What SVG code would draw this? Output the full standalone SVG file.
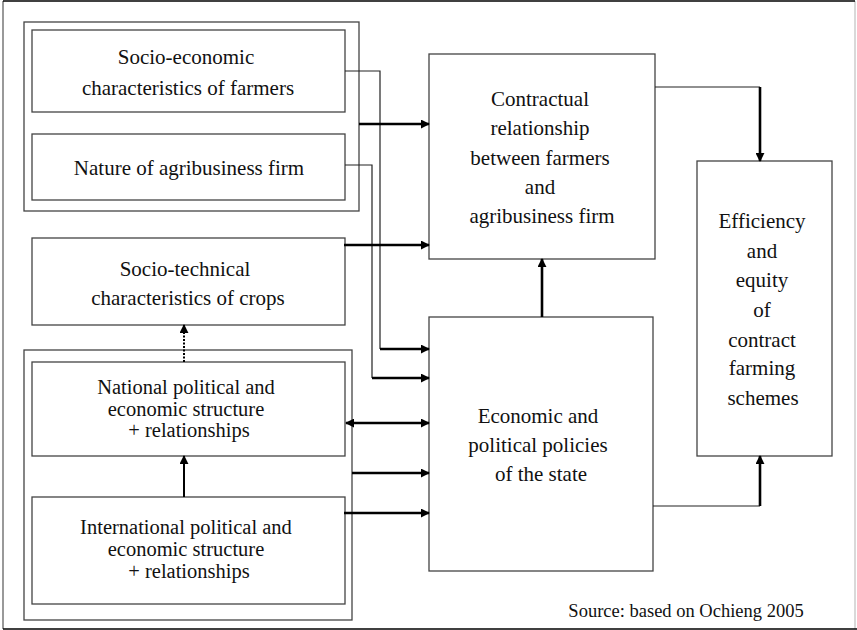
<svg xmlns="http://www.w3.org/2000/svg" width="857" height="630" viewBox="0 0 857 630">
<style>
.box{fill:#fff;stroke:#444;stroke-width:1.3}
.grp{fill:none;stroke:#444;stroke-width:1.3}
text{font-family:"Liberation Serif","Times New Roman",serif;font-size:21px;fill:#111;text-anchor:middle}
.s{font-size:20.5px}
.thin{fill:none;stroke:#222;stroke-width:1.2}
.thick{fill:none;stroke:#000;stroke-width:2.6}
</style>
<defs>
<marker id="ah" viewBox="0 0 10 10" refX="9" refY="5" markerWidth="9" markerHeight="9" markerUnits="userSpaceOnUse" orient="auto-start-reverse">
<path d="M0,0 L10,5 L0,10 z" fill="#000"/>
</marker>
</defs>
<rect x="0" y="0" width="857" height="630" fill="#fff"/>
<line x1="3" y1="1" x2="3" y2="629" stroke="#777" stroke-width="1.5"/>
<line x1="855" y1="1" x2="855" y2="629" stroke="#ccc" stroke-width="1.5"/>
<line x1="3" y1="1" x2="855" y2="1" stroke="#000" stroke-width="1.5"/>
<line x1="3" y1="629" x2="857" y2="629" stroke="#000" stroke-width="1.5"/>

<g id="group-farm-firm"><rect class="grp" x="24" y="22" width="335" height="189"/></g>
<g id="group-structures"><rect class="grp" x="24" y="350" width="328" height="270"/></g>

<g id="socio-economic">
<rect class="box" x="32" y="30" width="313" height="82"/>
<text x="186" y="64">Socio-economic</text>
<text x="188" y="95">characteristics of farmers</text>
</g>
<g id="nature-firm">
<rect class="box" x="32" y="134" width="313" height="66"/>
<text x="189" y="175">Nature of agribusiness firm</text>
</g>
<g id="socio-technical">
<rect class="box" x="32" y="238" width="313" height="87"/>
<text x="185" y="276">Socio-technical</text>
<text x="188" y="305">characteristics of crops</text>
</g>
<g id="national">
<rect class="box" x="32" y="362" width="313" height="94"/>
<text class="s" x="186" y="394">National political and</text>
<text class="s" x="186" y="415.5">economic structure</text>
<text class="s" x="189" y="437">+ relationships</text>
</g>
<g id="international">
<rect class="box" x="32" y="497" width="313" height="107"/>
<text class="s" x="186" y="534">International political and</text>
<text class="s" x="186" y="556">economic structure</text>
<text class="s" x="189" y="578">+ relationships</text>
</g>
<g id="contractual">
<rect class="box" x="429" y="54" width="226" height="205"/>
<text x="540" y="106">Contractual</text>
<text x="540" y="135">relationship</text>
<text x="540" y="165">between farmers</text>
<text x="540" y="194">and</text>
<text x="542" y="223">agribusiness firm</text>
</g>
<g id="economic-policies">
<rect class="box" x="429" y="317" width="224" height="254"/>
<text x="538" y="423">Economic and</text>
<text x="538" y="452">political policies</text>
<text x="541" y="481">of the state</text>
</g>
<g id="efficiency">
<rect class="box" x="697" y="161" width="135" height="295"/>
<text x="762" y="228">Efficiency</text>
<text x="762" y="258">and</text>
<text x="762" y="287">equity</text>
<text x="762" y="317">of</text>
<text x="762" y="347">contract</text>
<text x="762" y="375">farming</text>
<text x="763" y="405">schemes</text>
</g>

<g id="connectors">
<polyline class="thin" points="345,71 380,71 380,349"/>
<line class="thick" x1="380" y1="349" x2="429" y2="349" marker-end="url(#ah)"/>
<polyline class="thin" points="345,165 372,165 372,378"/>
<line class="thick" x1="372" y1="378" x2="429" y2="378" marker-end="url(#ah)"/>
<line class="thick" x1="359" y1="124" x2="429" y2="124" marker-end="url(#ah)"/>
<line class="thick" x1="344" y1="245" x2="429" y2="245" marker-end="url(#ah)"/>
<line class="thick" x1="346" y1="423" x2="429" y2="423" marker-start="url(#ah)" marker-end="url(#ah)"/>
<line class="thick" x1="352" y1="473" x2="429" y2="473" marker-end="url(#ah)"/>
<line class="thick" x1="344" y1="513" x2="429" y2="513" marker-end="url(#ah)"/>
<line class="thick" x1="542" y1="317" x2="542" y2="259" marker-end="url(#ah)"/>
<polyline class="thin" points="655,87 760,87"/>
<line class="thick" x1="760" y1="87" x2="760" y2="161" marker-end="url(#ah)"/>
<polyline class="thin" points="653,506 760,506"/>
<line class="thick" x1="760" y1="506" x2="760" y2="456" marker-end="url(#ah)"/>
<line x1="184" y1="362" x2="184" y2="325" stroke="#000" stroke-width="2" stroke-dasharray="2,1.5" marker-end="url(#ah)"/>
<line x1="184" y1="497" x2="184" y2="456" stroke="#000" stroke-width="2" marker-end="url(#ah)"/>
</g>

<text x="686" y="617" style="font-size:18.5px">Source: based on Ochieng 2005</text>
</svg>
